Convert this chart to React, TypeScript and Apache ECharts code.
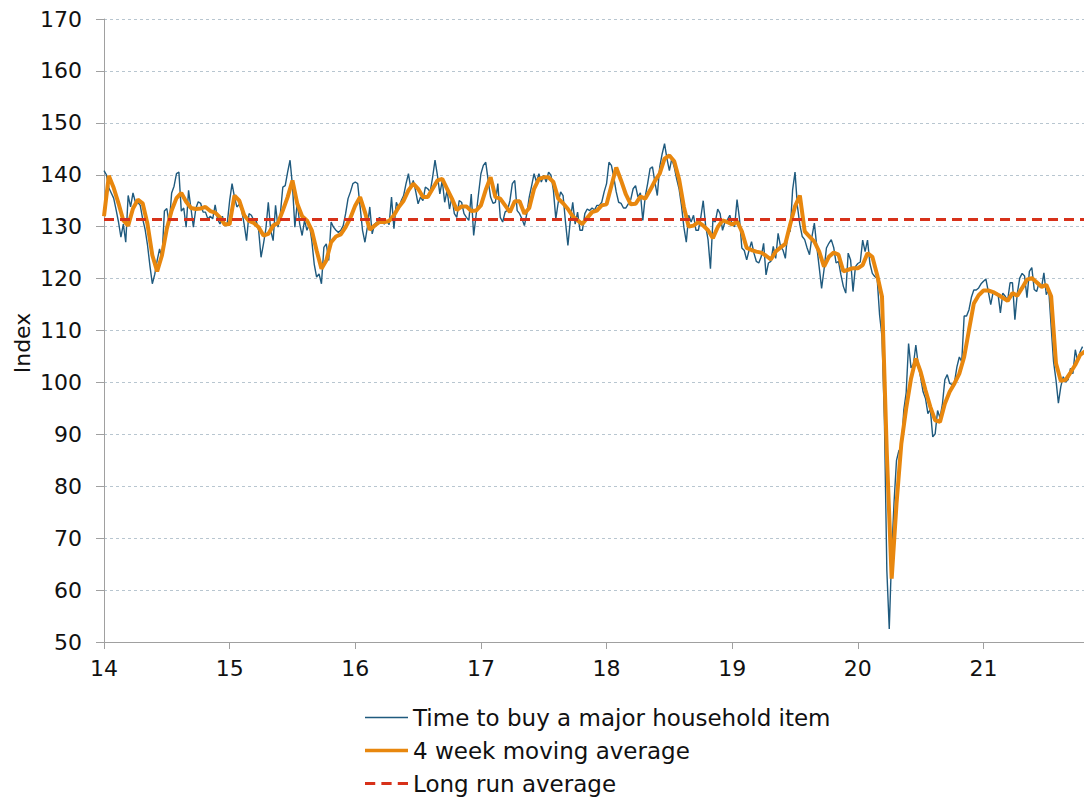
import React, { useEffect, useRef } from "react";
import * as echarts from "echarts";

const FONT = '"DejaVu Sans", Verdana, sans-serif';

// Weekly index readings, one array per year (year label = start of array)
const blue14 = [140.8, 140, 137.5, 136.5, 135.5, 133.3, 130.9, 128, 130.5, 127, 136, 133.8, 136.5, 134.7, 134.7, 134.1, 131.5, 129.5, 126.5, 122.5, 119, 120.8, 123.5, 125.7, 124, 133, 133.5, 130.5, 136.5, 137.8, 140.2, 140.5, 133, 133.6, 129.9, 137, 133.5, 129.9, 133.5, 134.8, 134.5, 132.8, 132.8, 131.5, 132, 131.5, 134.2, 131.5, 130.5, 132, 130.2, 130.6];
const blue15 = [135, 138.3, 135.7, 133.8, 134.3, 133.1, 130.5, 127.3, 132.5, 132.2, 131.2, 131.1, 129.3, 124.1, 126.7, 129.6, 134.7, 129.3, 127.3, 134.1, 129.9, 132.5, 137.6, 137.9, 140.5, 142.8, 137.9, 129.9, 134.7, 130.5, 128.3, 131.2, 129.3, 130.5, 127.3, 122.8, 120.3, 120.9, 119, 126, 126.7, 123.5, 130.9, 129.9, 129.3, 128.9, 129.3, 130.2, 132.5, 135.4, 136.7, 138.3];
const blue16 = [138.6, 138.3, 133.8, 129.3, 127, 129.9, 133.8, 128.6, 130.5, 130.9, 131.8, 131.2, 130.5, 131.2, 130.4, 135.7, 129.6, 134.7, 133.4, 135, 136, 138.3, 140.2, 137.3, 138.9, 136.8, 134.4, 135.7, 135, 137.6, 137.3, 136.7, 139.5, 142.8, 139.9, 136.3, 138.9, 134.7, 137, 133.4, 135.7, 132.5, 131.8, 135, 134.7, 132.5, 131.8, 131.2, 136.3, 128.3, 132.2, 136.3];
const blue17 = [140.2, 141.8, 142.4, 138.9, 135.7, 134.5, 134.7, 138.3, 131.8, 130.9, 132.8, 133.2, 135, 138.3, 138.9, 133.1, 132.5, 131.5, 130.2, 132.5, 135.7, 137.9, 140.2, 138.6, 140.2, 138.6, 139.9, 138.6, 140.5, 139.9, 137, 131.5, 134.7, 136.7, 136, 130.9, 126.4, 131.2, 134.7, 130.5, 132.8, 129.3, 129.3, 132.5, 133.4, 133.1, 133.6, 133.2, 134.1, 134.1, 134.7, 136.7];
const blue18 = [138.3, 142.4, 141.8, 139.5, 136.7, 134.7, 134.5, 133.6, 133.6, 134.4, 135.2, 137.3, 137.9, 135.7, 136.5, 131.2, 135.8, 138.3, 141.2, 141.5, 138.6, 136, 141.5, 144, 146, 143.1, 140.8, 143.1, 141.5, 139.2, 137.3, 134.1, 129.9, 127, 132.2, 130.9, 132.2, 129.3, 129.3, 131.8, 135, 130.2, 127.5, 121.9, 131.2, 130.9, 133.4, 132.5, 129.3, 130.9, 131.3, 132.2];
const blue19 = [130.4, 130, 135.2, 131.6, 125.9, 125.4, 123.6, 125.5, 127.1, 124.9, 123.3, 123, 124.2, 126.8, 120.7, 123, 123.3, 126.2, 123.9, 128.7, 126.2, 125.5, 123.9, 129.1, 129.1, 137.1, 140.5, 133.9, 130.4, 128.1, 127.5, 125.9, 124.6, 128.1, 130.7, 126.2, 122.2, 118.1, 121.7, 125.9, 126.8, 127.5, 126, 123, 123.3, 120.7, 118.5, 117.2, 124.9, 123.6, 117.5, 122.3];
const blue20 = [122.9, 123.2, 127.4, 125.2, 127.4, 122.9, 121, 120.4, 120, 113, 108.8, 92.7, 63.8, 52.5, 67, 77, 85, 86.9, 87, 94.6, 98, 107.5, 102.8, 103.5, 107.2, 103.4, 100.9, 98.2, 96.9, 94, 94.8, 89.5, 90.1, 94.6, 93.2, 95.8, 100.5, 101.5, 99.8, 99.6, 100, 103, 104.9, 104, 112.8, 112.8, 114, 116.4, 117.8, 117.8, 118.2, 119];
const blue21 = [119.5, 119.9, 117.5, 115, 117.4, 117.2, 117.1, 113.4, 117.2, 116.6, 115.8, 119.2, 119.2, 112.1, 117.2, 120.1, 121, 120.5, 116.3, 121.4, 122.1, 117.9, 117.5, 119.2, 118.2, 121.1, 116.9, 117.9, 110.8, 104, 100.5, 96, 99.2, 101.1, 100.1, 100.5, 102.7, 101.7, 106.3, 104, 105.9, 106.9];

// 4 week moving average, read every two weeks
const avg14 = [132, 139.8, 137.5, 134.5, 131.2, 130.2, 133.5, 135.2, 134.5, 130.5, 124.5, 121.4, 124.5, 129.6, 133.1, 135.5, 136.5, 134.8, 133.6, 133.4, 133.5, 133.8, 133, 132.7, 131.8, 130.4];
const avg15 = [130.5, 136, 135, 132.2, 131.1, 130.7, 129.9, 128.3, 128.6, 130.2, 130.7, 133.1, 135.7, 138.9, 134.4, 132, 131.2, 129.3, 125.4, 121.9, 123.5, 127, 128.1, 128.5, 129.9, 131.7];
const avg16 = [134.1, 135.7, 132.8, 129.4, 130.2, 130.9, 130.9, 131.1, 132.2, 133.8, 135, 137, 138.3, 137.3, 135.7, 135.7, 137.3, 138.9, 139.2, 137.3, 135.4, 133.2, 133.9, 133.9, 133, 133.1];
const avg17 = [134.1, 137.1, 139.5, 135.7, 135.4, 134.1, 132.8, 134.9, 134.9, 132.5, 133.6, 137.3, 139.2, 139.5, 139.5, 138.6, 135.4, 134.5, 133.4, 132, 131.2, 130.5, 131.7, 132.8, 133.1, 134.1];
const avg18 = [134.3, 137.9, 141.4, 138.9, 136.2, 134.3, 134.4, 135.8, 135.4, 137, 138.8, 140.2, 143.1, 143.7, 142.6, 139.2, 133.8, 130, 130.2, 130.9, 130.2, 129.3, 127.8, 129.9, 131.2, 130.9];
const avg19 = [130.4, 131, 129.1, 125.9, 125.5, 125.2, 125, 124.4, 123.7, 125.2, 126, 126.7, 130.4, 133.9, 136, 129.1, 128.1, 127.1, 125.2, 122.3, 124.2, 125, 124.6, 121.4, 121.7, 122];
const avg20 = [122, 122.6, 124.9, 124.2, 120.7, 116.5, 86.3, 62.2, 76.6, 88.2, 95, 100.7, 104.6, 102, 98.5, 95.3, 92.7, 92.4, 95.9, 98.2, 99.8, 101.7, 104.9, 110.1, 115.2, 116.8];
const avg21 = [117.7, 117.7, 117.4, 116.9, 116.3, 115.7, 117.2, 116.7, 118.2, 119.8, 120.1, 119.3, 118.4, 118.8, 116.6, 103.7, 100.3, 100.5, 101.9, 103.4, 105.3, 106];

const longRunAverage = 131.4;

const years = [14, 15, 16, 17, 18, 19, 20, 21];
const blueYears = [blue14, blue15, blue16, blue17, blue18, blue19, blue20, blue21];
const avgYears = [avg14, avg15, avg16, avg17, avg18, avg19, avg20, avg21];

const X_MIN = 14;
const X_MAX = 21.8;

const seriesNames = [
  "Time to buy a major household item",
  "4 week moving average",
  "Long run average",
];

const BLUE = "#1f5a7e";
const ORANGE = "#e8870e";
const RED = "#d7311a";

function toPoints(arrs: number[][], perYear: number): number[][] {
  const out: number[][] = [];
  arrs.forEach((arr, yi) => {
    arr.forEach((v, k) => out.push([years[yi] + k / perYear, v]));
  });
  return out;
}

export default function App() {
  const ref = useRef<HTMLDivElement>(null);
  useEffect(() => {
    const chart = echarts.init(ref.current as HTMLDivElement, null, { renderer: "svg" });
    const blue = toPoints(blueYears, 52);
    const avg = toPoints(avgYears, 26);
    chart.setOption({
      animation: false,
      backgroundColor: "#ffffff",
      textStyle: { fontFamily: FONT },
      grid: { left: 104, right: 0, top: 19, bottom: 156, containLabel: false },
      xAxis: {
        type: "value",
        min: X_MIN,
        max: X_MAX,
        interval: 1,
        axisLine: { show: true, lineStyle: { color: "#a0a0a0", width: 1 } },
        axisTick: { show: true, length: 7, lineStyle: { color: "#a0a0a0" } },
        axisLabel: {
          fontSize: 22,
          fontFamily: FONT,
          color: "#111",
          margin: 15,
          showMaxLabel: false,
          formatter: (v: number) => (Number.isInteger(v) ? String(v) : ""),
        },
        splitLine: { show: false },
      },
      yAxis: {
        type: "value",
        min: 50,
        max: 170,
        interval: 10,
        axisLine: { show: true, lineStyle: { color: "#a0a0a0", width: 1 } },
        axisTick: { show: true, length: 8, lineStyle: { color: "#a0a0a0" } },
        axisLabel: { fontSize: 22, fontFamily: FONT, color: "#111", margin: 22 },
        splitLine: { show: true, lineStyle: { color: "#b8c6d0", type: [3, 3], width: 1 } },
      },
      legend: {
        orient: "vertical",
        left: 365,
        top: 706,
        height: 100,
        padding: 0,
        itemWidth: 43,
        itemHeight: 14,
        itemGap: 10,
        data: [
          { name: seriesNames[0], icon: "path://M0,0h43v1.6h-43z" },
          { name: seriesNames[1], icon: "path://M0,0h43v3.6h-43z" },
          { name: seriesNames[2], icon: "path://M0,0h10v3h-10z M16,0h10v3h-10z M32,0h10v3h-10z" },
        ],
        textStyle: { fontSize: 23, fontFamily: FONT, color: "#111" },
      },
      graphic: [
        {
          type: "text",
          x: 22,
          y: 343,
          rotation: Math.PI / 2,
          style: {
            text: "Index",
            font: `22px ${FONT}`,
            fill: "#111",
            textAlign: "center",
            textVerticalAlign: "middle",
          },
        },
      ],
      series: [
        {
          name: seriesNames[0],
          type: "line",
          data: blue,
          symbol: "none",
          showSymbol: false,
          lineStyle: { color: BLUE, width: 1.4 },
          itemStyle: { color: BLUE },
        },
        {
          name: seriesNames[1],
          type: "line",
          data: avg,
          symbol: "none",
          showSymbol: false,
          lineStyle: { color: ORANGE, width: 4 },
          itemStyle: { color: ORANGE },
        },
        {
          name: seriesNames[2],
          type: "line",
          data: [
            [X_MIN, longRunAverage],
            [X_MAX, longRunAverage],
          ],
          symbol: "none",
          showSymbol: false,
          lineStyle: { color: RED, width: 3, type: [10, 6] },
          itemStyle: { color: RED },
        },
      ],
    });
    return () => chart.dispose();
  }, []);
  return (
    <div
      ref={ref}
      style={{ position: "fixed", left: 0, top: 0, width: 1084, height: 798, background: "#fff" }}
    />
  );
}
